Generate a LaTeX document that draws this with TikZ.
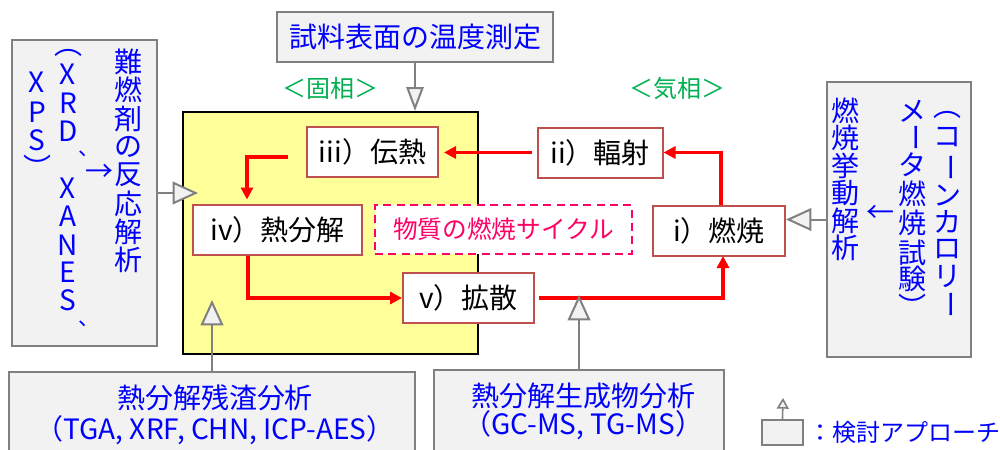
\documentclass[tikz,border=0pt]{standalone}
\usepackage{fontspec}
\setmainfont{Noto Sans CJK JP}
\usetikzlibrary{arrows.meta,calc}
\definecolor{gbg}{HTML}{F2F2F2}
\definecolor{gline}{HTML}{808080}
\definecolor{yelfill}{HTML}{FFFF99}
\definecolor{rline}{HTML}{C0504D}
\definecolor{jblue}{HTML}{0000FF}
\definecolor{jgreen}{HTML}{00B050}
\definecolor{jpink}{HTML}{FF0066}
\definecolor{jred}{HTML}{FF0000}
\begin{document}
\begin{tikzpicture}[x=0.75pt,y=-0.75pt,
 graybox/.style={draw=gline,fill=gbg,line width=1.5pt,inner sep=0pt},
 redbox/.style={draw=rline,fill=white,line width=1.5pt,minimum height=37.5pt,inner sep=0pt,font=\fontsize{21}{25}\selectfont},
 flow/.style={draw=jred,line width=2.4pt,-{Triangle[length=9pt,width=9pt]}},
 probe/.style={draw=gline,line width=1.5pt,-{Triangle[length=19pt,width=17pt,fill=gbg]}},
 bt/.style={text=jblue,font=\fontsize{21}{25}\selectfont,inner sep=0pt},
 gt/.style={text=jgreen,font=\fontsize{18}{22}\selectfont,inner sep=0pt},
]
\useasboundingbox (0,0) rectangle (1000,450);
% boxes
\node[draw=black,fill=yelfill,line width=1.5pt,minimum width=221.25pt,minimum height=181.5pt,inner sep=0pt] (yel) at (330.5,233) {};
\node[graybox,minimum width=207pt,minimum height=37.5pt] (top) at (415,37) {};
\node[bt] at (top.center) {試料表面の温度測定};
\node[graybox,minimum width=108.75pt,minimum height=229.5pt] (left) at (84.5,193) {};
\node[graybox,minimum width=108pt,minimum height=206.25pt] (right) at (899,219.5) {};
\node[graybox,minimum width=304.5pt,minimum height=69.75pt] (bl) at (212,418.5) {};
\node[graybox,minimum width=217.5pt,minimum height=71.25pt] (br) at (579,417.5) {};
\node[graybox,minimum width=30.75pt,minimum height=18.75pt] (leg) at (782.5,432.5) {};

\node[bt] at (215,398) {熱分解残渣分析};
\node[bt] at (215,430) {（TGA, XRF, CHN, ICP-AES）};
\node[bt] at (583,396) {熱分解生成物分析};
\node[bt] at (583,425) {（GC-MS, TG-MS）};
\node[bt,anchor=west,font=\fontsize{18}{22}\selectfont] at (808,432) {：検討アプローチ};

\node[gt] at (330,88) {＜固相＞};
\node[gt] at (677,88) {＜気相＞};

% process nodes
\node[redbox,minimum width=98.25pt] (iii) at (372.5,152) {iii）伝熱};
\node[redbox,minimum width=93.75pt] (ii) at (600,152.5) {ii）輻射};
\node[redbox,minimum width=126.75pt] (iv) at (277.5,229.5) {iv）熱分解};
\node[draw=jpink,dash pattern=on 6pt off 4pt,line width=1.5pt,fill=white,minimum width=192.75pt,minimum height=36.75pt,inner sep=0pt,text=jpink,font=\fontsize{18.5}{22}\selectfont] (cyc) at (503.5,229.5) {物質の燃焼サイクル};
\node[redbox,minimum width=99pt] (i) at (719,231) {i）燃焼};
\node[redbox,minimum width=98.25pt] (v) at (468.5,298) {v）拡散};

% red flow
\draw[flow,shorten <=3.75pt,shorten >=3.75pt] (ii.west) -- (iii.east |- ii.west);
\draw[flow] ($(i.north)+(2,0)$) |- (ii.east);
\draw[flow] ($(iii.west)+(-18,5)$) -| ($(iv.north west)+(55,-4)$);
\draw[flow] ($(iv.south west)+(56,0)$) |- (v.west);
\draw[flow] ($(v.east)+(4,0)$) -| ($(i.south)+(4,-1)$);

% probe arrows
\draw[probe,-{Triangle[length=18pt,width=13pt,fill=gbg]}] (top.south) -- (top.south |- yel.north);
\draw[probe] (left.east) -- ($(yel.west |- left.east)+(16,0)$);
\draw[probe] (right.west) -- (right.west -| i.east);
\draw[probe] (bl.north) -- (212,300);
\draw[probe] (br.north) -- (579,295);
\draw[draw=gline,line width=1.2pt,-{Triangle[length=8pt,width=9pt,fill=gbg]}] (leg.north) -- (783,398);

% left vertical text
\foreach \c/\y in {難/62,燃/90,剤/119,の/147,反/175,応/204,解/232,析/260}
  \node[bt] at (128,\y) {\c};
\node[bt] at (99,173) {→};
\node[bt] at (68,53) {︵};
\foreach \c/\y in {X/74,R/103,D/131,X/188,A/216,N/245,E/272,S/300}
  \node[bt] at (68,\y) {\c};
\node[bt,font=\fontsize{16}{19}\selectfont] at (76,160) {︑};
\node[bt,font=\fontsize{16}{19}\selectfont] at (76,330) {︑};
\foreach \c/\y in {X/82,P/112,S/140}
  \node[bt] at (37,\y) {\c};
\node[bt] at (37,167) {︶};

% right vertical text
\foreach \c/\y in {燃/111,焼/138,挙/166,動/193,解/221,析/248}
  \node[bt] at (845,\y) {\c};
\node[bt] at (880,214) {←};
\foreach \c/\y in {メ/111,タ/165,燃/194,焼/223,試/253,験/279}
  \node[bt] at (912,\y) {\c};
\node[bt,rotate=-90] at (912,137) {ー};
\node[bt] at (912,306) {︶};
\foreach \c/\y in {コ/137,ン/195,カ/222,ロ/249,リ/276}
  \node[bt] at (947,\y) {\c};
\node[bt] at (947,115) {︵};
\node[bt,rotate=-90] at (947,167) {ー};
\node[bt,rotate=-90] at (947,304) {ー};
\end{tikzpicture}
\end{document}
